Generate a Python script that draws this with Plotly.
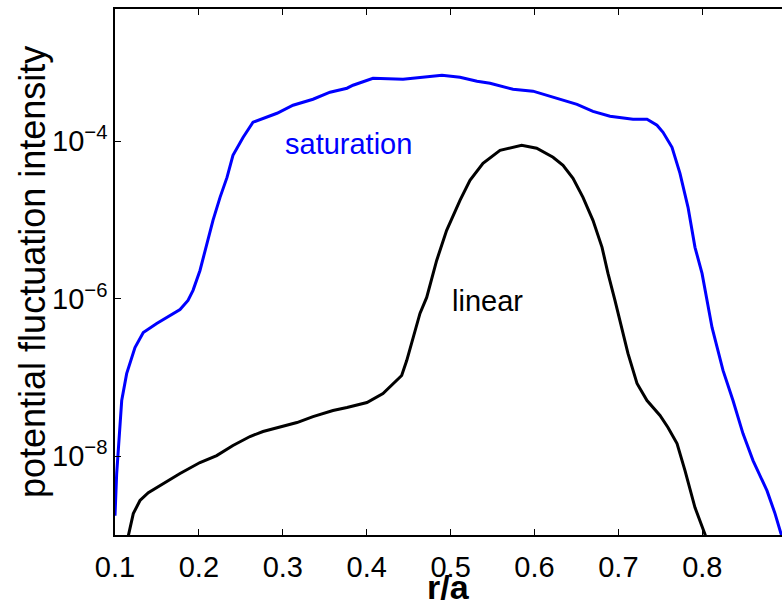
import plotly.graph_objects as go

# Radial position r/a and fluctuation intensity for the two runs
sat_r = [0.100, 0.102, 0.108, 0.1139, 0.1238, 0.1337, 0.1497, 0.1775, 0.187, 0.193,
         0.2013, 0.2097, 0.2168, 0.2252, 0.2335, 0.2406, 0.2526, 0.2645, 0.2764, 0.2931,
         0.3122, 0.336, 0.3563, 0.3765, 0.3837, 0.4075, 0.4433, 0.4635, 0.4897, 0.5112,
         0.5315, 0.547, 0.5744, 0.5982, 0.6101, 0.6507, 0.6697, 0.690, 0.7174, 0.7341,
         0.746, 0.7532, 0.7639, 0.7734, 0.783, 0.7913, 0.7997, 0.8057, 0.8116, 0.8247,
         0.8366, 0.8485, 0.8605, 0.8771, 0.8867, 0.8938, 0.897]
sat_phi = [1.76e-9, 6.03e-9, 5.10e-8, 1.12e-7, 2.40e-7, 3.73e-7, 4.86e-7, 7.31e-7, 9.53e-7, 1.28e-6,
           2.29e-6, 5.05e-6, 9.91e-6, 1.94e-5, 3.48e-5, 6.64e-5, 1.12e-4, 1.75e-4, 1.96e-4, 2.27e-4,
           2.87e-4, 3.42e-4, 4.20e-4, 4.72e-4, 5.15e-4, 6.32e-4, 6.14e-4, 6.52e-4, 6.90e-4, 6.52e-4,
           5.79e-4, 5.46e-4, 4.58e-4, 4.33e-4, 3.95e-4, 2.95e-4, 2.40e-4, 2.08e-4, 1.91e-4, 1.91e-4,
           1.60e-4, 1.30e-4, 8.39e-5, 3.92e-5, 1.45e-5, 4.50e-6, 2.10e-6, 9.53e-7, 4.33e-7, 1.23e-7,
           5.10e-8, 1.94e-8, 8.81e-9, 3.66e-9, 1.87e-9, 1.04e-9, 9.0e-10]

lin_r = [0.114, 0.1159, 0.1218, 0.1298, 0.1397, 0.1536, 0.1775, 0.2013, 0.2212, 0.2406,
         0.2609, 0.2764, 0.3002, 0.3169, 0.336, 0.3598, 0.3765, 0.4003, 0.4194, 0.4313,
         0.4417, 0.4477, 0.4552, 0.4635, 0.4715, 0.4834, 0.4953, 0.5112, 0.5231, 0.5386,
         0.5589, 0.5847, 0.6026, 0.6221, 0.634, 0.6459, 0.6578, 0.6697, 0.6805, 0.6876,
         0.6959, 0.7019, 0.7114, 0.7222, 0.7341, 0.7496, 0.7591, 0.7699, 0.7794, 0.7913,
         0.8032, 0.806]
lin_phi = [8.5e-10, 9.8e-10, 1.87e-9, 2.74e-9, 3.45e-9, 4.24e-9, 6.03e-9, 8.32e-9, 1.02e-8, 1.37e-8,
           1.78e-8, 2.06e-8, 2.38e-8, 2.68e-8, 3.19e-8, 3.81e-8, 4.16e-8, 4.81e-8, 6.27e-8, 8.39e-8,
           1.06e-7, 1.64e-7, 3.23e-7, 6.52e-7, 1.04e-6, 3.07e-6, 7.40e-6, 1.78e-5, 3.19e-5, 5.25e-5,
           7.69e-5, 8.89e-5, 8.15e-5, 6.27e-5, 4.95e-5, 3.39e-5, 1.94e-5, 9.91e-6, 4.50e-6, 2.10e-6,
           9.53e-7, 5.31e-7, 2.02e-7, 8.39e-8, 5.10e-8, 3.29e-8, 2.32e-8, 1.45e-8, 6.58e-9, 2.23e-9,
           1.04e-9, 8.5e-10]

x_ticks = [0.1, 0.2, 0.3, 0.4, 0.5, 0.6, 0.7, 0.8]
x_labels = ["0.1", "0.2", "0.3", "0.4", "0.5", "0.6", "0.7", "0.8"]
y_ticks = [1e-8, 1e-6, 1e-4]
y_labels = ["10<sup>\u22128</sup>", "10<sup>\u22126</sup>", "10<sup>\u22124</sup>"]

FONT = "Liberation Sans, Arial, sans-serif"
x_range = [0.1, 0.895]
y_range = [-9.0, -2.32]

fig = go.Figure()
fig.add_trace(go.Scatter(x=sat_r, y=sat_phi, mode="lines",
                         line=dict(color="#0000ff", width=3), showlegend=False))
fig.add_trace(go.Scatter(x=lin_r, y=lin_phi, mode="lines",
                         line=dict(color="#000000", width=3), showlegend=False))

fig.update_layout(
    width=782, height=606,
    margin=dict(l=115, r=0, t=9, b=71),
    paper_bgcolor="white", plot_bgcolor="white",
    font=dict(family=FONT, size=29, color="black"),
    xaxis=dict(range=x_range, tickvals=x_ticks, ticktext=x_labels,
               ticks="inside", ticklen=6, tickwidth=1, tickcolor="black",
               showline=True, linecolor="black", linewidth=1.5, mirror="ticks",
               showgrid=False, zeroline=False, ticklabelstandoff=5,
               tickfont=dict(family=FONT, size=29, color="black")),
    yaxis=dict(type="log", range=y_range, tickvals=y_ticks, ticktext=y_labels,
               ticks="inside", ticklen=6, tickwidth=1, tickcolor="black",
               showline=True, linecolor="black", linewidth=1.5, mirror=False,
               showgrid=False, zeroline=False,
               tickfont=dict(family=FONT, size=29, color="black")),
    yaxis2=dict(type="log", range=y_range, tickvals=y_ticks, overlaying="y", side="right",
                anchor="x", ticks="inside", ticklen=3, tickwidth=1, tickcolor="black",
                showticklabels=False, showline=False, showgrid=False, zeroline=False),
)

fig.add_annotation(text="saturation", x=0.378, y=-4.038, xref="x", yref="y",
                   showarrow=False, font=dict(family=FONT, size=29, color="#0000ff"))
fig.add_annotation(text="linear", x=0.544, y=-6.034, xref="x", yref="y",
                   showarrow=False, font=dict(family=FONT, size=29, color="black"))
fig.add_annotation(text="potential fluctuation intensity", x=0, y=0.5,
                   xref="paper", yref="paper", xanchor="center", yanchor="middle",
                   xshift=-83, textangle=-90, showarrow=False,
                   font=dict(family=FONT, size=36, color="black"))
fig.add_annotation(text="<b>r/a</b>", x=0.5, y=0, xref="paper", yref="paper",
                   xanchor="center", yanchor="bottom", yshift=-73, showarrow=False,
                   font=dict(family=FONT, size=34, color="black"))

fig.write_html("out.html")
